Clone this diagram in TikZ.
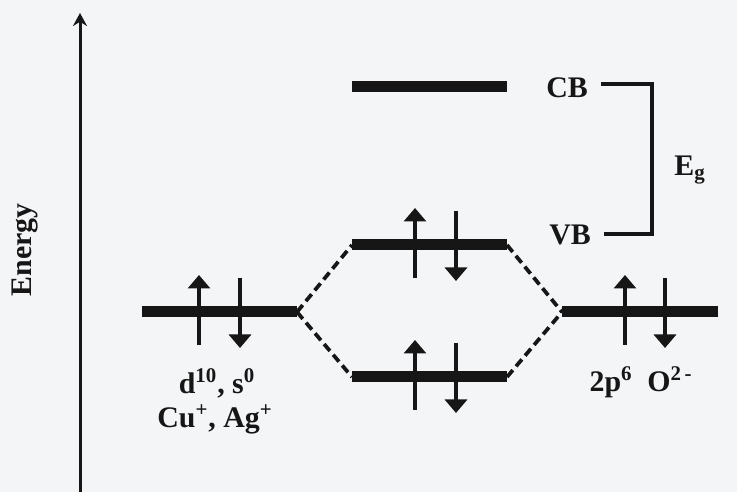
\documentclass[tikz,border=0pt]{standalone}
\usepackage{fontspec}
\setmainfont{Liberation Serif}
\usepackage{tikz}
\usetikzlibrary{arrows.meta}
\usepackage{xcolor}
\definecolor{paper}{RGB}{244,245,247}
\definecolor{ink}{RGB}{22,22,22}

\begin{document}
\begin{tikzpicture}[
        level/.style={color=ink, line width=0.22cm},
        spin/.style={color=ink, line width=0.08cm, -{Triangle[width=0.44cm,length=0.27cm]}},
        mix/.style={color=ink, line width=0.075cm, dash pattern=on 0.18cm off 0.1cm},
        lbl/.style={color=ink, inner sep=0pt, font=\fontsize{17}{20}\selectfont\bfseries}
    ]
            \fill[paper] (0,0) rectangle (14.74,9.84);
            \useasboundingbox (0,0) rectangle (14.74,9.84);

            % energy axis
            \coordinate (axb) at (1.6,0);
            \coordinate (axt) at (1.6,9.58);
            \draw[color=ink, line width=0.06cm, -{Stealth[width=0.28cm,length=0.26cm]}] (axb) -- (axt);
            \node[lbl, rotate=90] (energy) at (0.5,4.84) {Energy};

            % levels
            \coordinate (dl) at (2.84,3.60);  \coordinate (dr) at (5.94,3.60);
            \coordinate (pl) at (11.24,3.60); \coordinate (pr) at (14.36,3.60);
            \coordinate (cbl) at (7.04,8.10); \coordinate (cbr) at (10.14,8.10);
            \coordinate (vbl) at (7.04,4.94); \coordinate (vbr) at (10.14,4.94);
            \coordinate (bl) at (7.04,2.30);  \coordinate (br) at (10.14,2.30);

            \draw[level] (dl) -- (dr);
            \draw[level] (pl) -- (pr);
            \draw[level] (cbl) -- (cbr);
            \draw[level] (vbl) -- (vbr);
            \draw[level] (bl) -- (br);

            \draw[mix] (dr) -- (vbl);
            \draw[mix] (dr) -- (bl);
            \draw[mix] (vbr) -- (pl);
            \draw[mix] (br) -- (pl);

            % electrons
            \foreach \x/\y in {3.98/3.60, 8.30/4.94, 8.30/2.30, 12.50/3.60}
                \draw[spin] (\x,\y-0.66) -- (\x,\y+0.74);
            \foreach \x/\y in {4.80/3.60, 9.12/4.94, 9.12/2.30, 13.30/3.60}
                \draw[spin] (\x,\y+0.68) -- (\x,\y-0.72);

            % band labels
            \node[lbl] (cb) at (11.34,8.08) {CB};
            \node[lbl] (vb) at (11.40,5.14) {VB};
            \coordinate (gt) at (13.04,8.16);
            \coordinate (gb) at (13.04,5.16);
            \draw[color=ink, line width=0.065cm] ([xshift=0.25cm]cb.east |- gt) -- (gt) -- (gb) -- ([xshift=0.25cm]vb.east |- gb);
            \node[lbl] (eg) at (13.80,6.44) {E\textsubscript{g}};

            \node[lbl] (dconf) at (4.34,2.18) {d\textsuperscript{10}, s\textsuperscript{0}};
            \node[lbl] (ions) at (4.30,1.45) {Cu\textsuperscript{+}, Ag\textsuperscript{+}};
            \node[lbl] (oconf) at (12.82,2.20) {2p\textsuperscript{6}\ \ O\textsuperscript{2\,-}};
        \end{tikzpicture}
\end{document}
